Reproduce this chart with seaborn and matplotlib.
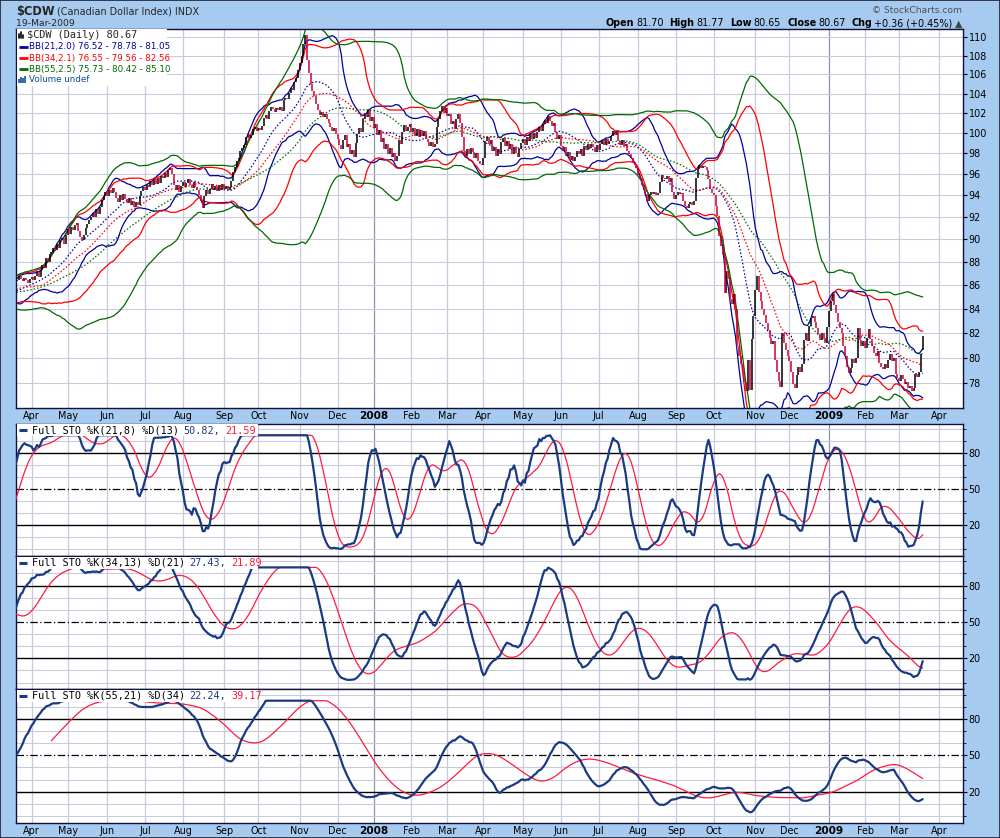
import numpy as np
import pandas as pd
import matplotlib
matplotlib.use("Agg")
import matplotlib.pyplot as plt
import seaborn as sns
from matplotlib.patches import Rectangle
from matplotlib.lines import Line2D

# ---------------- data ----------------
# warm-up closes (mid Nov 2006 .. 20 Mar 2007) so the indicators start like the chart
pre_close = [
    88.0, 88.3, 88.1, 88.4, 87.9, 87.6, 87.8, 87.4, 87.3, 87.6,
    87.8, 87.5, 87.2, 87.5, 86.9, 86.7, 86.6, 86.8, 86.5, 86.4,
    86.6, 86.3, 86.5, 86.2, 86.0, 85.8, 85.9, 85.6, 85.8, 85.3,
    85.6, 85.2, 85.0, 85.3, 85.1, 85.5, 85.3, 84.9, 85.0, 84.7,
    85.1, 84.8, 84.6, 84.9, 84.5, 84.7, 84.4, 84.8, 85.0, 84.9,
    85.2, 84.9, 85.3, 85.0, 85.4, 85.1, 84.8, 85.2, 85.6, 86.0,
    86.2, 86.0, 86.4, 86.1, 85.8, 86.2, 86.5, 86.3, 85.9, 85.2,
    84.8, 84.6, 84.9, 85.2, 84.8, 85.1, 85.4, 85.2, 85.6, 85.3,
    85.7, 85.5, 85.9, 85.7, 86.1, 86.3, 86.0, 86.3,
]

# daily closes, 21-Mar-2007 .. 19-Mar-2009
close = [
    86.4, 86.8, 86.5, 86.3, 86.6, 86.4, 86.2, 86.5, 86.7, 86.4,
    86.8, 87.1, 86.7, 87.3, 87.7, 87.5, 88.3, 88.0, 88.7, 88.9,
    89.2, 89.0, 89.6, 89.2, 89.9, 90.1, 89.6, 90.4, 90.9, 90.5,
    91.1, 90.8, 91.3, 91.5, 90.7, 90.2, 89.9, 90.4, 91.0, 91.4,
    91.7, 92.0, 92.4, 92.0, 92.7, 92.3, 92.9, 93.6, 93.9, 94.3,
    93.9, 94.5, 94.2, 94.7, 94.3, 93.8, 93.4, 94.0, 93.6, 94.1,
    93.7, 93.3, 93.8, 93.1, 93.5, 92.9, 93.4, 93.1, 93.9, 94.4,
    94.8, 94.5, 95.0, 94.8, 95.4, 95.0, 95.5, 95.1, 95.6, 95.2,
    95.8, 95.6, 96.1, 95.7, 96.4, 96.6, 96.0, 95.0, 94.5, 95.0,
    94.3, 94.9, 95.3, 94.8, 95.2, 95.5, 95.0, 94.7, 95.3, 94.8,
    94.5, 94.0, 93.5, 92.8, 93.9, 94.5, 94.1, 94.6, 95.1, 94.5,
    94.9, 94.4, 95.0, 94.5, 95.1, 94.6, 94.9, 94.5, 94.8, 95.4,
    96.2, 96.7, 97.3, 97.6, 98.2, 98.5, 98.8, 99.6, 99.9, 99.5,
    99.8, 100.4, 100.6, 100.2, 100.5, 100.3, 100.7, 101.5, 101.8, 101.4,
    102.2, 102.6, 102.4, 102.1, 102.5, 102.3, 102.6, 102.2, 103.3, 103.6,
    103.4, 104.1, 104.6, 104.4, 105.2, 105.6, 106.5, 107.2, 108.0, 109.3,
    110.2, 107.5, 106.2, 105.0, 104.3, 103.8, 102.9, 102.3, 101.8, 102.1,
    101.6, 101.9, 101.4, 101.0, 100.6, 100.2, 100.5, 99.9, 99.4, 98.8,
    98.4, 99.3, 99.8, 98.6, 98.9, 97.9, 98.3, 97.7, 99.0, 99.9,
    100.5, 100.1, 101.4, 102.0, 101.6, 102.3, 101.2, 101.6, 100.5, 100.9,
    99.8, 100.3, 99.1, 99.5, 98.4, 98.9, 97.9, 98.5, 97.7, 98.0,
    97.3, 97.8, 99.3, 98.9, 100.1, 100.8, 100.2, 100.6, 100.9, 100.1,
    100.5, 99.7, 100.4, 99.6, 100.3, 99.7, 100.2, 99.4, 99.1, 98.7,
    99.1, 98.6, 98.9, 100.6, 101.4, 102.2, 102.7, 102.0, 102.5, 101.7,
    101.9, 100.9, 101.2, 100.4, 101.4, 101.9, 101.0, 99.6, 98.2, 97.8,
    98.4, 97.9, 98.5, 98.1, 97.6, 98.0, 97.3, 97.0, 96.9, 97.6,
    99.2, 99.6, 98.9, 99.3, 98.2, 98.6, 97.8, 98.4, 97.9, 99.1,
    99.5, 98.7, 99.2, 98.4, 98.9, 97.9, 98.6, 98.0, 97.7, 98.4,
    99.0, 99.4, 98.8, 99.6, 99.2, 99.9, 99.4, 100.0, 99.5, 100.1,
    100.6, 100.2, 100.9, 101.3, 101.0, 101.7, 101.2, 100.7, 101.0, 100.1,
    99.4, 99.8, 98.7, 98.2, 98.6, 97.8, 98.1, 97.4, 97.8, 97.3,
    97.7, 98.2, 97.9, 98.4, 97.8, 98.7, 98.3, 98.9, 98.5, 98.9,
    98.6, 98.1, 98.8, 98.3, 98.9, 99.3, 98.8, 99.4, 98.9, 99.2,
    99.7, 100.2, 99.8, 100.1, 99.2, 98.8, 99.3, 98.7, 98.9, 98.2,
    97.9, 97.6, 97.2, 96.9, 96.6, 95.9, 95.6, 95.0, 94.5, 94.1,
    93.5, 94.0, 94.3, 94.1, 94.3, 94.0, 94.2, 95.3, 95.9, 95.6,
    95.5, 95.8, 95.3, 95.6, 94.3, 93.7, 94.0, 94.3, 94.1, 94.2,
    93.5, 93.0, 92.8, 93.2, 93.4, 93.1, 93.5, 95.6, 96.5, 96.9,
    96.6, 96.8, 96.7, 96.4, 95.5, 94.6, 94.2, 94.0, 93.0, 92.1,
    90.3, 89.4, 88.6, 85.3, 87.2, 86.5, 84.8, 84.4, 85.2, 84.0,
    80.9, 80.1, 79.5, 78.9, 78.1, 77.4, 79.8, 77.5, 81.5, 83.4,
    85.6, 86.8, 85.4, 84.6, 84.0, 83.5, 82.8, 82.2, 81.6, 81.1,
    81.3, 79.8, 78.9, 78.2, 77.7, 82.0, 81.2, 80.6, 80.1, 79.7,
    78.9, 77.9, 77.6, 78.6, 79.3, 78.9, 79.5, 81.4, 82.0, 81.3,
    82.6, 83.2, 83.4, 82.9, 82.4, 81.9, 81.4, 82.0, 81.6, 81.2,
    82.5, 83.8, 84.6, 85.2, 84.3, 83.6, 82.9, 82.4, 82.0, 80.9,
    80.1, 79.3, 78.8, 79.2, 79.9, 79.6, 80.0, 82.4, 81.4, 80.9,
    81.3, 80.8, 81.6, 82.3, 81.5, 80.9, 80.4, 80.1, 80.5, 79.6,
    79.3, 79.1, 79.5, 79.2, 79.8, 80.3, 79.7, 80.0, 78.7, 78.4,
    78.2, 78.6, 78.3, 77.9, 78.1, 77.6, 77.8, 77.4, 77.6, 78.7,
    78.5, 78.9, 80.31, 80.67,
]
last_ohlc = [81.70, 81.77, 80.65, 80.67]
last_date = "2009-03-19"

holidays = [
    "2006-11-23", "2006-12-25", "2007-01-01", "2007-01-02", "2007-01-15",
    "2007-02-19", "2007-04-06", "2007-05-28", "2007-07-04", "2007-09-03",
    "2007-11-22", "2007-12-25", "2008-01-01", "2008-01-21", "2008-02-18",
    "2008-03-21", "2008-05-26", "2008-07-04", "2008-09-01", "2008-11-27",
    "2008-12-25", "2009-01-01", "2009-01-19", "2009-02-16", "2009-04-10",
]

bb_periods = [21, 34, 55]
bb_mult = [2.0, 2.1, 2.5]
bb_labels = ["BB(21,2.0) 76.52 - 78.78 - 81.05",
             "BB(34,2.1) 76.55 - 79.56 - 82.56",
             "BB(55,2.5) 75.73 - 80.42 - 85.10"]

sto_n = [21, 34, 55]
sto_k = [8, 13, 21]
sto_d = [13, 21, 34]
sto_names = ["Full STO %K(21,8) %D(13)", "Full STO %K(34,13) %D(21)", "Full STO %K(55,21) %D(34)"]
sto_k_last = ["50.82,", "27.43,", "22.24,"]
sto_d_last = ["21.59", "21.89", "39.17"]

price_ticks = list(range(78, 111, 2))

# ---------------- frame + indicators ----------------
prices = pd.Series(pre_close + close, dtype=float)
n_pre = len(pre_close)
cal = pd.offsets.CustomBusinessDay(holidays=holidays)
dates = pd.date_range(end=last_date, periods=len(prices), freq=cal)

df = pd.DataFrame({"date": dates, "pos": np.arange(len(prices)) - n_pre, "close": prices})
df["open"] = df["close"].shift(1).fillna(df["close"])
df.loc[df.index[-1], "open"] = last_ohlc[0]
df["high"] = df[["open", "close"]].max(axis=1)
df["low"] = df[["open", "close"]].min(axis=1)
df.loc[df.index[-1], ["high", "low"]] = [last_ohlc[1], last_ohlc[2]]
df["up"] = df["close"] >= df["close"].shift(1)

for n, m in zip(bb_periods, bb_mult):
    mid = df["close"].rolling(n).mean()
    sd = df["close"].rolling(n).std(ddof=0)
    df[f"bbm{n}"] = mid
    df[f"bbu{n}"] = mid + m * sd
    df[f"bbl{n}"] = mid - m * sd

for n, ks, ds in zip(sto_n, sto_k, sto_d):
    ll = df["low"].rolling(n).min()
    hh = df["high"].rolling(n).max()
    raw = 100 * (df["close"] - ll) / (hh - ll)
    k = raw.rolling(ks).mean()
    d = k.rolling(ds).mean()
    # StockCharts clips the plotted lines a little under 100
    df[f"k{n}"] = k.clip(-4, 95)
    df[f"d{n}"] = d.clip(-4, 95)

# month gridlines (first trading day of each month), incl. future days up to Apr 2009
fut = pd.date_range(start=dates[-1] + cal, periods=30, freq=cal)
all_dates = dates.append(fut)
s = pd.Series(np.arange(len(all_dates)) - n_pre, index=all_dates)
firsts = s.groupby([s.index.year, s.index.month]).min()
XMIN, XMAX = -0.7, 525.4
month_pos, month_lab, month_year = [], [], []
for (yr, mo), p in firsts.items():
    if XMIN < p < XMAX:
        month_pos.append(p)
        month_year.append(mo == 1)
        month_lab.append(str(yr) if mo == 1 else pd.Timestamp(yr, mo, 1).strftime("%b"))

# ---------------- figure ----------------
sns.set_style("white")
plt.rcParams["font.family"] = ["DejaVu Sans"]

W, H = 1000, 838
BG = "#a6caf0"
def fx(px):
    return px / W
def fy(py):
    return 1 - py / H

fig = plt.figure(figsize=(W / 100, H / 100), dpi=100, facecolor=BG)
renderer = fig.canvas.get_renderer()

GRID = "#c9cbdc"
YEARGRID = "#8e94ad"
SPINE = "#10103a"
C_UP, C_DN = "#000000", "#cc0033"
BB_COL = ["#00009c", "#ff0000", "#006a00"]
K_COL, D_COL = "#1b3a84", "#ff1a40"

def base_axes(rect):
    a = fig.add_axes(rect)
    a.set_facecolor("white")
    for sp in a.spines.values():
        sp.set_color(SPINE)
        sp.set_linewidth(1.0)
    a.set_xlim(XMIN, XMAX)
    for p, isyr in zip(month_pos, month_year):
        a.axvline(p, color=YEARGRID if isyr else GRID, lw=0.9, zorder=0)
    a.set_xticks(month_pos)
    a.tick_params(axis="x", length=0, pad=2.5, labelsize=6.9, colors="black")
    a.yaxis.tick_right()
    return a

def month_labels(a):
    a.set_xticklabels(month_lab)
    for t, isyr in zip(a.get_xticklabels(), month_year):
        if isyr:
            t.set_fontweight("bold")
            t.set_fontsize(7.6)

# main price panel
ax = base_axes([fx(16), fy(408), fx(963) - fx(16), (408 - 29) / H])
ax.set_yscale("log")
ax.set_ylim(76.1, 110.9)
for v in price_ticks:
    ax.axhline(v, color=GRID, lw=0.8, zorder=0)
ax.set_yticks(price_ticks)
ax.set_yticklabels([str(v) for v in price_ticks])
ax.minorticks_off()
ax.tick_params(axis="y", length=3, pad=1, labelsize=6.9, direction="out", colors="black")
month_labels(ax)

for n, col in zip(bb_periods, BB_COL):
    sns.lineplot(data=df, x="pos", y=f"bbu{n}", ax=ax, color=col, lw=0.9, legend=False, zorder=2)
    sns.lineplot(data=df, x="pos", y=f"bbl{n}", ax=ax, color=col, lw=0.9, legend=False, zorder=2)
    sns.lineplot(data=df, x="pos", y=f"bbm{n}", ax=ax, color=col, lw=0.9, ls=(0, (1.2, 1.6)),
                 legend=False, zorder=2)

up = df[df["up"]]
dn = df[~df["up"]]
ax.vlines(up["pos"], up["low"], up["high"], color=C_UP, lw=1.1, zorder=3)
ax.vlines(dn["pos"], dn["low"], dn["high"], color=C_DN, lw=1.1, zorder=3)
ax.set_xlabel("")
ax.set_ylabel("")
ax.set_xlim(XMIN, XMAX)
ax.set_ylim(76.1, 110.9)

# stochastic panels
sto_rects = [(424, 556), (556, 689.3), (689.3, 822.7)]
for i, (n, (top, bot)) in enumerate(zip(sto_n, sto_rects)):
    a = base_axes([fx(16), fy(bot), fx(963) - fx(16), (bot - top) / H])
    a.set_ylim(-5.6, 104.4)
    for v in range(0, 101, 10):
        if v in (20, 80):
            a.axhline(v, color="black", lw=1.0, zorder=1)
        elif v == 50:
            a.axhline(v, color="black", lw=0.9, ls=(0, (6, 2, 1, 2)), zorder=1)
        else:
            a.axhline(v, color=GRID, lw=0.8, zorder=0)
    sns.lineplot(data=df, x="pos", y=f"d{n}", ax=a, color=D_COL, lw=0.9, legend=False, zorder=3)
    sns.lineplot(data=df, x="pos", y=f"k{n}", ax=a, color=K_COL, lw=1.6, legend=False, zorder=4)
    a.set_yticks([20, 50, 80])
    a.set_yticklabels(["20", "50", "80"])
    a.set_yticks(range(0, 101, 10), minor=True)
    a.tick_params(axis="y", which="major", length=3, pad=1, labelsize=6.9, colors="black")
    a.tick_params(axis="y", which="minor", length=2, colors="black")
    a.set_xlabel("")
    a.set_ylabel("")
    a.set_xlim(XMIN, XMAX)
    if i == 2:
        month_labels(a)
    else:
        a.set_xticklabels([])

# ---------------- texts ----------------
def text_row(x, y, parts, align="left", size=6.8, family="DejaVu Sans", z=8):
    arts, widths = [], []
    for s_, color, weight, gap in parts:
        t = fig.text(0, fy(y), s_, color=color, fontweight=weight, fontsize=size,
                     family=family, va="center", ha="left", zorder=z)
        arts.append(t)
        widths.append(t.get_window_extent(renderer).width + gap)
    cur = x - sum(widths) if align == "right" else x
    for t, w in zip(arts, widths):
        t.set_x(fx(cur))
        cur += w

# header
fig.text(fx(16), fy(11), "$CDW", fontsize=8.3, fontweight="bold", va="center", ha="left")
fig.text(fx(57), fy(11), "(Canadian Dollar Index) INDX", fontsize=6.9, va="center", ha="left")
fig.text(fx(16), fy(23.5), "19-Mar-2009", fontsize=6.7, va="center", ha="left")
fig.text(fx(962), fy(10.5), "\u00a9 StockCharts.com", fontsize=6.6, color="#505050",
         va="center", ha="right")
text_row(962, 23.5, [
    ("Open", "black", "bold", 2), ("81.70", "black", "normal", 6),
    ("High", "black", "bold", 2), ("81.77", "black", "normal", 6),
    ("Low", "black", "bold", 2), ("80.65", "black", "normal", 6),
    ("Close", "black", "bold", 2), ("80.67", "black", "normal", 6),
    ("Chg", "black", "bold", 2), ("+0.36 (+0.45%)", "black", "normal", 2),
    ("\u25b2", "#3c4a44", "normal", 0),
], align="right", size=6.9)

# main legend
fig.add_artist(Rectangle((fx(17), fy(86)), (167 - 17) / W, (86 - 29.5) / H,
                         transform=fig.transFigure, facecolor="white", edgecolor="none", zorder=6))
for j, hgt in enumerate([4, 6, 3]):
    fig.add_artist(Line2D([fx(19 + 2 * j)] * 2, [fy(38), fy(38 - hgt)], color="black", lw=1.2, zorder=7))
fig.text(fx(27), fy(35.5), "$CDW (Daily) 80.67", fontsize=7.4, family="DejaVu Sans Mono",
         va="center", ha="left", zorder=8)
for j, (lab, col) in enumerate(zip(bb_labels, BB_COL)):
    yy = 47 + 11.2 * j
    fig.add_artist(Line2D([fx(18.5), fx(28)], [fy(yy)] * 2, color=col, lw=2.0, zorder=7,
                          solid_capstyle="butt"))
    fig.text(fx(29), fy(yy), lab, fontsize=6.3, color=col, va="center", ha="left", zorder=8)
for j, hgt in enumerate([4, 6, 5, 7]):
    fig.add_artist(Line2D([fx(18.5 + 2 * j)] * 2, [fy(83), fy(83 - hgt)], color="#1f5fa8",
                          lw=1.3, zorder=7, solid_capstyle="butt"))
fig.text(fx(29), fy(80), "Volume undef", fontsize=6.3, color="#0a4f9a", va="center", ha="left", zorder=8)

# stochastic legends
for (top, bot), name, kv, dv in zip(sto_rects, sto_names, sto_k_last, sto_d_last):
    yy = top + 6.5
    fig.add_artist(Rectangle((fx(17), fy(top + 12.5)), (258 - 17) / W, 12 / H,
                             transform=fig.transFigure, facecolor="white", edgecolor="none", zorder=6))
    fig.add_artist(Line2D([fx(19), fx(27)], [fy(yy)] * 2, color=K_COL, lw=2.2, zorder=7,
                          solid_capstyle="butt"))
    text_row(31.5, yy, [(name, "black", "normal", 5), (kv, "#1b3a84", "normal", 5),
                        (dv, "#ff1a40", "normal", 0)], size=7.3, family="DejaVu Sans Mono")

# outer border
fig.add_artist(Rectangle((0, 0), 1, 1, transform=fig.transFigure, facecolor="none",
                         edgecolor="#202030", lw=1.2, zorder=10))

fig.savefig("out.png", dpi=100, facecolor=BG)
